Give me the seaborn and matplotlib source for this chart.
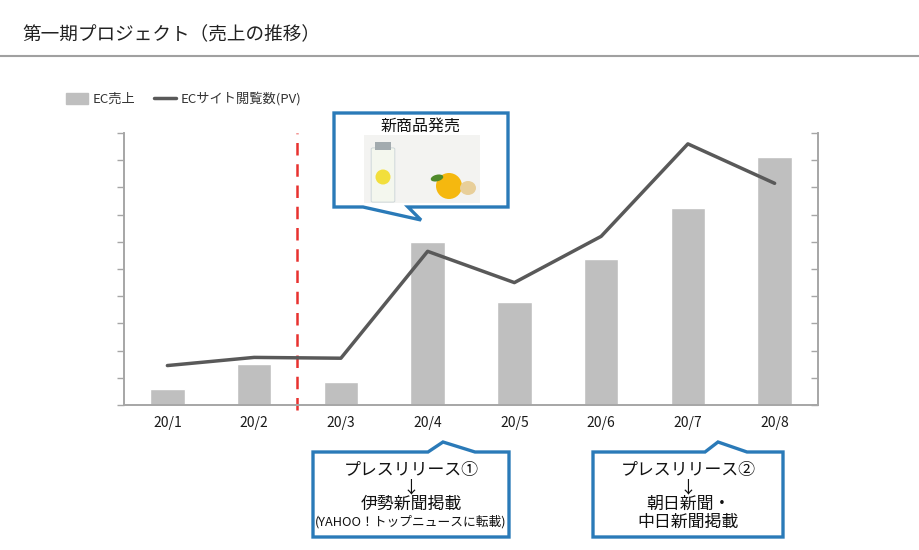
import matplotlib
matplotlib.use("Agg")
import matplotlib.pyplot as plt
import matplotlib.patches as mpatches
from matplotlib.lines import Line2D
import numpy as np
import seaborn as sns

# data (axis has no labels, scale 0-10)
months = ["20/1", "20/2", "20/3", "20/4", "20/5", "20/6", "20/7", "20/8"]
ec_sales = [0.6, 1.5, 0.85, 6.0, 3.8, 5.35, 7.25, 9.1]
ec_pv = [1.45, 1.75, 1.72, 5.65, 4.5, 6.2, 9.6, 8.15]
launch_pos = 1.5  # boundary between 20/2 and 20/3

title = "第一期プロジェクト（売上の推移）"
legend_labels = ["EC売上", "ECサイト閲覧数(PV)"]
launch_text = "新商品発売"
press1 = ["プレスリリース①", "↓", "伊勢新聞掲載", "(YAHOO！トップニュースに転載)"]
press2 = ["プレスリリース②", "↓", "朝日新聞・", "中日新聞掲載"]

sns.set_style("white")
plt.rcParams['font.family'] = ['Noto Sans CJK JP', 'DejaVu Sans']

W, H = 920, 550
fig = plt.figure(figsize=(9.2, 5.5), dpi=100)


def px(x, y):
    return (x / W, 1 - y / H)


bar_col = "#bfbfbf"
line_col = "#595959"
axis_col = "#a6a6a6"
blue = "#2a7ab8"
txt = "#1a1a1a"

ax = fig.add_axes([124 / W, 1 - 405 / H, (818 - 124) / W, (405 - 133) / H])
sns.barplot(x=months, y=ec_sales, color=bar_col, width=0.4, saturation=1, ax=ax)
ax.set_xlim(-0.5, len(months) - 0.5)
ax.set_ylim(0, 10)
ax.set_yticks(np.arange(0, 11, 1))
ax.set_yticklabels([])
ax.set_xticks(np.arange(len(months)))
ax.set_xticklabels(months, fontsize=10, color=txt)
ax.set_xticks(np.arange(len(months) + 1) - 0.5, minor=True)
ax.tick_params(axis="x", which="major", length=0, pad=8)
ax.tick_params(axis="x", which="minor", length=5, color=axis_col, width=1, direction="out")
ax.tick_params(axis="y", length=5, color=axis_col, width=1, direction="out", left=True)
for s in ["left", "bottom", "right"]:
    ax.spines[s].set_color(axis_col)
    ax.spines[s].set_linewidth(1.2)
ax.spines["top"].set_visible(False)
ax.set_xlabel("")
ax.set_ylabel("")

# launch marker
ax.axvline(launch_pos, ymin=-0.02, ymax=1.0, color="#e8312f", lw=1.8,
           dashes=(5, 3.5), clip_on=False, zorder=1)

ax2 = ax.twinx()
sns.lineplot(x=np.arange(len(months)), y=ec_pv, color=line_col, lw=2.5, ax=ax2)
ax2.set_ylim(0, 10)
ax2.set_yticks(np.arange(0, 11, 1))
ax2.set_yticklabels([])
ax2.tick_params(axis="y", length=5, color=axis_col, width=1, direction="in", right=True)
for s in ["left", "bottom", "right"]:
    ax2.spines[s].set_color(axis_col)
    ax2.spines[s].set_linewidth(1.2)
ax2.spines["top"].set_visible(False)
ax2.set_ylabel("")

# legend
handles = [mpatches.Patch(color=bar_col), Line2D([0], [0], color=line_col, lw=2.5)]
fig.legend(handles, legend_labels, loc="center left", bbox_to_anchor=px(63, 99),
           ncol=2, frameon=False, fontsize=9.5, handlelength=1.7, handleheight=0.9,
           columnspacing=1.4, handletextpad=0.35, labelcolor="#333333",
           borderaxespad=0, borderpad=0.2)

# title and rule
fig.text(*px(22, 35), title, fontsize=13.4, color="#222222", va="center", ha="left")
fig.add_artist(Line2D([0, 1], [1 - 56 / H] * 2, color="#a0a0a0", lw=1.5))


def callout(points, lw=2.4):
    poly = mpatches.Polygon([px(x, y) for x, y in points], closed=True,
                            facecolor="white", edgecolor=blue, lw=lw,
                            transform=fig.transFigure, zorder=5)
    fig.add_artist(poly)


def shape(patch):
    patch.set_transform(fig.transFigure)
    fig.add_artist(patch)


# new product callout (tail points down to 20/4)
callout([(334, 113), (508, 113), (508, 207), (408, 207), (421, 220),
         (363, 207), (334, 207)])
fig.text(*px(421, 126), launch_text, fontsize=11.5, ha="center", va="center",
         color="#111111", zorder=6)

# simple stand-in for the product photo
shape(mpatches.Rectangle(px(364, 203), 116 / W, 68 / H, facecolor="#f3f3f1",
                         edgecolor="none", zorder=6))
shape(mpatches.FancyBboxPatch(px(373, 201), 20 / W, 52 / H,
                              boxstyle="round,pad=0.002", facecolor="#f4f7ee",
                              edgecolor="#c9d3d6", lw=0.6, zorder=7))
shape(mpatches.Rectangle(px(375, 150), 16 / W, 8 / H, facecolor="#a3abaf",
                         edgecolor="none", zorder=8))
shape(mpatches.Ellipse(px(383, 177), 15 / W, 15 / H, facecolor="#f2df3c",
                       edgecolor="none", zorder=8))
shape(mpatches.Ellipse(px(449, 186), 26 / W, 26 / H, facecolor="#f5b80f",
                       edgecolor="none", zorder=8))
shape(mpatches.Ellipse(px(437, 178), 14 / W, 6 / H, angle=40,
                       facecolor="#4f8a2b", edgecolor="none", zorder=9))
shape(mpatches.Ellipse(px(468, 188), 16 / W, 14 / H, facecolor="#e8cf9a",
                       edgecolor="none", zorder=8))

# press release callouts (tails point up)
callout([(313, 452), (428, 452), (443, 442), (475, 452), (509, 452),
         (509, 537), (313, 537)])
callout([(593, 452), (705, 452), (718, 442), (747, 452), (783, 452),
         (783, 537), (593, 537)])

for cx, lines in [(411, press1), (688, press2)]:
    ys = [470, 487, 504, 522]
    for t, y in zip(lines, ys):
        small = t.startswith("(")
        fig.text(*px(cx, y), t, fontsize=9.2 if small else 12.2, ha="center",
                 va="center", color="#111111", zorder=6)

fig.savefig("out.png", dpi=100)
